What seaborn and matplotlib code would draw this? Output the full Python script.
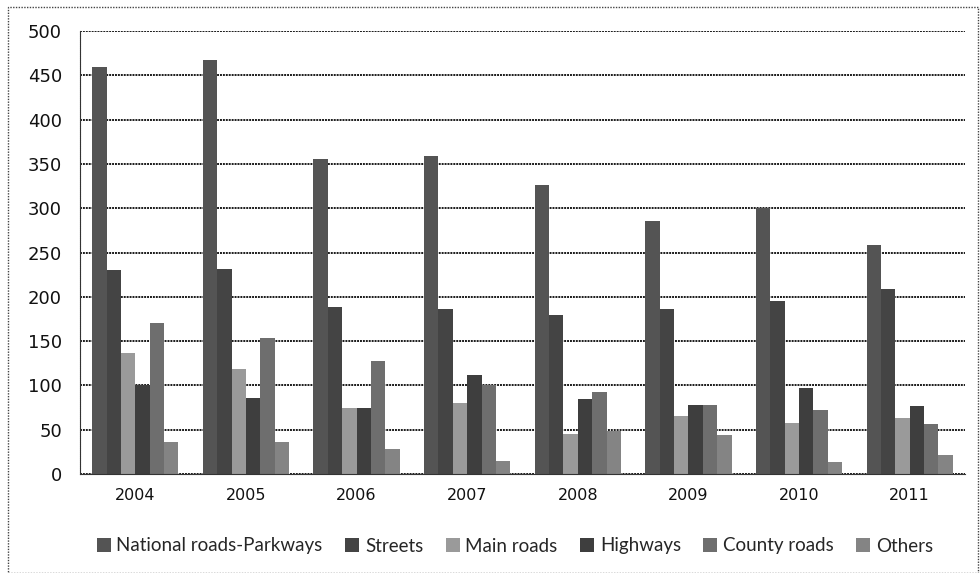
import numpy as np
import pandas as pd
import matplotlib
matplotlib.use("Agg")
import matplotlib.pyplot as plt
import seaborn as sns
from matplotlib.patches import Rectangle

years = ["2004", "2005", "2006", "2007", "2008", "2009", "2010", "2011"]
road_types = ["National roads-Parkways", "Streets", "Main roads",
              "Highways", "County roads", "Others"]

national = [459, 467, 355, 359, 326, 286, 300, 258]
streets = [230, 231, 189, 186, 180, 186, 195, 209]
main_roads = [137, 118, 74, 80, 45, 65, 57, 63]
highways = [101, 86, 74, 112, 85, 78, 97, 77]
county = [170, 154, 128, 101, 92, 78, 72, 56]
others = [36, 36, 28, 15, 48, 44, 13, 21]

series = [national, streets, main_roads, highways, county, others]
colors = ["#545454", "#444444", "#9a9a9a", "#3e3e3e", "#6e6e6e", "#848484"]

df = pd.DataFrame({
    "year": np.repeat(years, len(road_types)).tolist(),
    "type": road_types * len(years),
    "value": [series[j][i] for i in range(len(years)) for j in range(len(road_types))],
})

sns.set_style("white")
plt.rcParams["font.family"] = ["DejaVu Sans"]

fig = plt.figure(figsize=(9.8, 5.73), dpi=100)
ax = fig.add_axes([80 / 980, 1 - 474 / 573, 885 / 980, 443 / 573])

sns.barplot(data=df, x="year", y="value", hue="type", order=years,
            hue_order=road_types, palette=colors, width=0.78, gap=0,
            saturation=1, ax=ax, legend=True, edgecolor="none", linewidth=0)

ax.set_ylim(0, 500)
ax.set_xlim(-0.5, len(years) - 0.5)
ax.set_yticks(range(0, 501, 50))
ax.set_xlabel("")
ax.set_ylabel("")
ax.yaxis.grid(True, color="#1a1a1a", linestyle=(0, (1.0, 0.5)), linewidth=1.4)
ax.set_axisbelow(True)
for side in ["top", "right"]:
    ax.spines[side].set_visible(False)
ax.spines["left"].set_color("#333333")
ax.spines["bottom"].set_color("#333333")
ax.spines["left"].set_linestyle((0, (1.2, 0.6)))

ax.tick_params(axis="y", which="major", direction="out", length=5, width=1,
               color="#333333", labelsize=13, pad=8, labelcolor="#111111")
ax.tick_params(axis="x", which="major", length=0, labelsize=11.5, pad=10,
               labelcolor="#111111")
ax.set_xticks(np.arange(-0.5, len(years) + 0.5, 1), minor=True)
ax.tick_params(axis="x", which="minor", direction="out", length=5,
               color="#333333")

handles, labels = ax.get_legend_handles_labels()
ax.legend_.remove()
fig.legend(handles, labels, loc="center", bbox_to_anchor=(0.5255, 1 - 546 / 573),
           ncol=6, frameon=False, handlelength=0.75, handleheight=0.75,
           handletextpad=0.3, columnspacing=1.2,
           prop={"family": "Lato", "size": 13.5})

# dotted frame around the whole chart
fig.patches.append(Rectangle((8 / 980, 0.0), 970 / 980, 1 - 7 / 573,
                             transform=fig.transFigure, fill=False,
                             edgecolor="#444444", linewidth=1,
                             linestyle=(0, (1, 1))))

fig.savefig("out.png", dpi=100)
